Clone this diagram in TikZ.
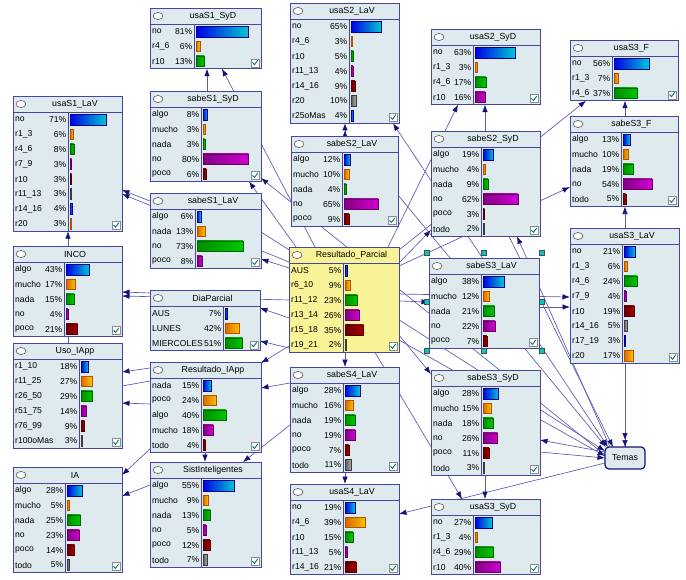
\documentclass[tikz,border=0pt]{standalone}
\usepackage{fontspec}
\setmainfont{Liberation Sans}
\usetikzlibrary{arrows.meta,calc}
\definecolor{nodebg}{RGB}{222,234,238}
\definecolor{nodeyel}{RGB}{248,243,150}
\definecolor{nborder}{RGB}{70,70,160}
\definecolor{edgec}{RGB}{90,90,180}
\definecolor{tipc}{RGB}{20,20,120}
\definecolor{checkc}{RGB}{0,120,120}
\definecolor{handlec}{RGB}{0,200,200}
\definecolor{barL0}{RGB}{0,0,230}\definecolor{barR0}{RGB}{0,200,210}\definecolor{barD0}{RGB}{0,0,150}
\definecolor{barL1}{RGB}{220,100,0}\definecolor{barR1}{RGB}{245,200,0}\definecolor{barD1}{RGB}{180,80,0}
\definecolor{barL2}{RGB}{0,140,0}\definecolor{barR2}{RGB}{0,200,0}\definecolor{barD2}{RGB}{0,100,0}
\definecolor{barL3}{RGB}{130,0,130}\definecolor{barR3}{RGB}{210,0,210}\definecolor{barD3}{RGB}{100,0,100}
\definecolor{barL4}{RGB}{100,0,0}\definecolor{barR4}{RGB}{170,0,0}\definecolor{barD4}{RGB}{80,0,0}
\definecolor{barL5}{RGB}{90,90,90}\definecolor{barR5}{RGB}{170,170,170}\definecolor{barD5}{RGB}{60,60,60}
\pgfdeclarelayer{back}
\pgfdeclarelayer{bg}
\pgfsetlayers{back,bg,main}
\tikzset{
  nbox/.style={draw=nborder,line width=0.8pt,inner sep=0pt,outer sep=0pt,rectangle},
  nline/.style={draw=nborder,line width=0.7pt},
  lbl/.style={font=\fontsize{8.6}{9}\selectfont,inner sep=0pt,text=black},
  ttl/.style={font=\fontsize{8.8}{9}\selectfont,inner sep=0pt,text=black},
  lnk/.style={draw=edgec,line width=0.65pt,-{Latex[length=7.5pt,width=5.5pt,color=tipc]}},
  lnkplain/.style={draw=edgec,line width=0.65pt},
  lnkdbl/.style={draw=edgec,line width=0.65pt,-{Latex[length=7pt,width=5.5pt,color=tipc]Latex[length=7pt,width=5.5pt,color=tipc]}},
  lnkboth/.style={draw=edgec,line width=0.65pt,{Latex[length=7.5pt,width=5.5pt,color=tipc]}-{Latex[length=7.5pt,width=5.5pt,color=tipc]}},
  handle/.style={fill=handlec,draw=black!70,line width=0.4pt}
}
\newcommand\netnode[9]{%
  \pgfmathsetmacro\ytwo{#3+16+14.9*#5}%
  \node[nbox,fill=#9,anchor=north west,minimum width={(#4-#2)*1pt},minimum height={(16+14.9*#5)*1pt}] (#1) at (#2,#3) {};
  \draw[nline] (#2,{#3+16}) -- (#4,{#3+16});
  \draw[nline] (#6,{#3+16}) -- (#6,\ytwo);
  \draw[fill=white,draw=black!75,line width=0.5pt] ({#2+8},{#3+8}) ellipse [x radius=5pt,y radius=3.5pt];
  \node[ttl] at ({(#2+15+#4)/2},{#3+8.5}) {#7};
  \foreach \lab/\pct [count=\i from 0] in {#8} {%
    \pgfmathsetmacro\yc{#3+16+(\i+0.5)*14.9}%
    \pgfmathsetmacro\bl{max(1.5,\pct/100*(#4-#6-3))}%
    \pgfmathtruncatemacro\ci{mod(\i,6)}%
    \node[lbl,anchor=west] at ({#2+2},\yc) {\lab};
    \node[lbl,anchor=east] at ({#6-1.5},\yc) {\pct\%};
    \draw[left color=barL\ci,right color=barR\ci,draw=barD\ci,line width=0.4pt] ({#6+2},{\yc-5.3}) rectangle ({#6+2+\bl},{\yc+5.3});
  }
  \draw[fill=white,draw=black!45,line width=0.4pt] ({#4-10},{\ytwo-10}) rectangle ({#4-2},{\ytwo-2});
  \draw[checkc,line width=0.9pt] ({#4-8.5},{\ytwo-6.2}) -- ({#4-6.5},{\ytwo-4}) -- ({#4-3.2},{\ytwo-8.6});
}
\begin{document}
\begin{tikzpicture}[x=1pt,y=-1pt]
\begin{pgfonlayer}{back}
\fill[white] (0,0) rectangle (686,579);
\end{pgfonlayer}
\useasboundingbox (0,0) rectangle (686,579);

\netnode{usaS1SyD}{150}{8}{261}{3}{194}{usaS1\_SyD}{no/81, r4\_6/6, r10/13}{nodebg}
\netnode{usaS2LaV}{290}{3}{399}{7}{349}{usaS2\_LaV}{no/65, r4\_6/3, r10/5, r11\_13/4, r14\_16/9, r20/10, r25oMas/4}{nodebg}
\netnode{usaS2SyD}{431}{29}{540}{4}{473}{usaS2\_SyD}{no/63, r1\_3/3, r4\_6/17, r10/16}{nodebg}
\netnode{usaS3F}{570}{40}{678}{3}{612}{usaS3\_F}{no/56, r1\_3/7, r4\_6/37}{nodebg}
\netnode{sabeS3F}{570}{116}{678}{5}{621}{sabeS3\_F}{algo/13, mucho/10, nada/19, no/54, todo/5}{nodebg}
\netnode{usaS3LaV}{570}{228}{679}{8}{622}{usaS3\_LaV}{no/21, r1\_3/6, r4\_6/24, r7\_9/4, r10/19, r14\_16/5, r17\_19/3, r20/17}{nodebg}
\netnode{usaS1LaV}{13}{96}{122}{8}{68}{usaS1\_LaV}{no/71, r1\_3/6, r4\_6/8, r7\_9/3, r10/3, r11\_13/3, r14\_16/4, r20/3}{nodebg}
\netnode{sabeS1SyD}{150}{91}{261}{5}{201}{sabeS1\_SyD}{algo/8, mucho/3, nada/3, no/80, poco/6}{nodebg}
\netnode{sabeS1LaV}{150}{193}{261}{4}{195}{sabeS1\_LaV}{algo/6, nada/13, no/73, poco/8}{nodebg}
\netnode{sabeS2LaV}{291}{136}{398}{5}{342}{sabeS2\_LaV}{algo/12, mucho/10, nada/4, no/65, poco/9}{nodebg}
\netnode{sabeS2SyD}{431}{131}{540}{6}{481}{sabeS2\_SyD}{algo/19, mucho/4, nada/9, no/62, poco/3, todo/2}{nodebg}
\netnode{INCO}{13}{246}{122}{5}{64}{INCO}{algo/43, mucho/17, nada/15, no/4, poco/21}{nodebg}
\netnode{UsoIApp}{13}{343}{122}{6}{79}{Uso\_IApp}{r1\_10/18, r11\_25/27, r26\_50/29, r51\_75/14, r76\_99/9, r100oMas/3}{nodebg}
\netnode{DiaParcial}{150}{290}{260}{3}{223}{DiaParcial}{AUS/7, LUNES/42, MIERCOLES/51}{nodebg}
\netnode{RP}{289}{247}{399}{6}{343}{Resultado\_Parcial}{AUS/5, r6\_10/9, r11\_12/23, r13\_14/26, r15\_18/35, r19\_21/2}{nodeyel}
\netnode{sabeS3LaV}{429}{258}{539}{5}{481}{sabeS3\_LaV}{algo/38, mucho/12, nada/21, no/22, poco/7}{nodebg}
\netnode{ResultadoIApp}{150}{362}{261}{5}{201}{Resultado\_IApp}{nada/15, poco/24, algo/40, mucho/18, todo/4}{nodebg}
\netnode{sabeS4LaV}{290}{367}{399}{6}{343}{sabeS4\_LaV}{algo/28, mucho/16, nada/19, no/19, poco/7, todo/11}{nodebg}
\netnode{sabeS3SyD}{431}{370}{540}{6}{481}{sabeS3\_SyD}{algo/28, mucho/15, nada/18, no/26, poco/11, todo/3}{nodebg}
\netnode{IA}{13}{467}{122}{6}{65}{IA}{algo/28, mucho/5, nada/25, no/23, poco/14, todo/5}{nodebg}
\netnode{SistInteligentes}{150}{462}{261}{6}{201}{SistInteligentes}{algo/55, mucho/9, nada/13, no/5, poco/12, todo/7}{nodebg}
\netnode{usaS4LaV}{290}{484}{399}{5}{343}{usaS4\_LaV}{no/19, r4\_6/39, r10/15, r11\_13/5, r14\_16/21}{nodebg}
\netnode{usaS3SyD}{431}{499}{540}{4}{473}{usaS3\_SyD}{no/27, r1\_3/4, r4\_6/29, r10/40}{nodebg}

\node[draw=tipc,line width=1.2pt,rounded corners=4pt,fill=nodebg,anchor=north west,
      minimum width=40pt,minimum height=22pt,inner sep=0pt,outer sep=0pt,
      font=\fontsize{8.8}{9}\selectfont] (Temas) at (605,447) {Temas};

% selection handles round sabeS3_LaV
\foreach \hx/\hy in {427/253,484/253,542/253,427/302,542/302,427/351,484/351,542/351}
  \draw[handle] ({\hx-2.5},{\hy-2.5}) rectangle ({\hx+2.5},{\hy+2.5});

\begin{pgfonlayer}{bg}
\draw[lnk] (sabeS1SyD.north -| 207,0) -- (usaS1SyD.south -| 207,0);
\draw[lnk] (RP.north -| 315,0) -- (usaS1SyD.south -| 222,0);
\draw[lnk] (sabeS1LaV.west |- 0,201) -- (usaS1LaV.east |- 0,190);
\draw[lnk] (RP.west |- 0,262) -- (usaS1LaV.east |- 0,194);
\draw[lnk] (UsoIApp.north -| 68,0) -- (usaS1LaV.south -| 68,0);
\draw[lnk] (DiaParcial.west |- 0,293) -- (INCO.east |- 0,292);
\draw[lnk] (RP.west |- 0,300) -- (INCO.east |- 0,296);
\draw[lnk] (RP.west |- 0,268) -- (sabeS1LaV.east |- 0,259);
\draw[lnk] (RP.west |- 0,318) -- (DiaParcial.east |- 0,308);
\draw[lnk] (RP.west |- 0,348) -- (DiaParcial.east |- 0,341);
\draw[lnk] (RP.west |- 0,346) -- (ResultadoIApp.east |- 0,363);
\draw[lnk] (ResultadoIApp.west |- 0,368) -- (UsoIApp.east |- 0,372);
\draw[lnk] (ResultadoIApp.west |- 0,404) -- (UsoIApp.east |- 0,403);
\draw[lnkplain] (ResultadoIApp.west |- 0,381) -- (UsoIApp.east |- 0,386);
\draw[lnk] (ResultadoIApp.west |- 0,449) -- (IA.east |- 0,475);
\draw[lnk] (SistInteligentes.west |- 0,485) -- (IA.east |- 0,496);
\draw[lnk] (ResultadoIApp.south -| 205,0) -- (SistInteligentes.north -| 205,0);
\draw[lnk] (sabeS4LaV.west |- 0,425) -- (SistInteligentes.north -| 243,0);
\draw[lnk] (sabeS4LaV.west |- 0,383) -- (ResultadoIApp.east |- 0,388);
\draw[lnk] (RP.south -| 345,0) -- (sabeS4LaV.north -| 345,0);
\draw[lnk] (sabeS4LaV.south -| 345,0) -- (usaS4LaV.north -| 345,0);
\draw[lnk] (Temas.west |- 0,463) -- (usaS4LaV.east |- 0,514);
\draw[lnk] (sabeS3SyD.south -| 485,0) -- (usaS3SyD.north -| 485,0);
\draw[lnk] (RP.south -| 375,0) -- (usaS3SyD.north -| 462,0);
\draw[lnk] (RP.east |- 0,335) -- (sabeS3SyD.west |- 0,374);
\draw[lnk] (RP.east |- 0,301) -- (sabeS3LaV.west |- 0,302);
\draw[lnk] (RP.east |- 0,294) -- (usaS3LaV.west |- 0,297);
\draw[lnk] (sabeS3LaV.east |- 0,307) -- (usaS3LaV.west |- 0,307);
\draw[lnk] (RP.east |- 0,263) -- (sabeS2SyD.west |- 0,230);
\draw[lnk] (RP.north -| 388,0) -- (usaS2SyD.south -| 458,0);
\draw[lnk] (RP.east |- 0,250) -- (usaS3F.south -| 586,0);
\draw[lnk] (sabeS2SyD.north -| 485,0) -- (usaS2SyD.south -| 485,0);
\draw[lnkdbl] (sabeS2LaV.north -| 345,0) -- (usaS2LaV.south -| 345,0);
\draw[lnk] (sabeS3F.north -| 625,0) -- (usaS3F.south -| 625,0);
\draw[lnk] (RP.east |- 0,266) -- (sabeS3F.west |- 0,187);
\draw[lnk] (Temas.north -| 625,0) -- (sabeS3F.south -| 625,0);
\draw[lnkdbl] (usaS3LaV.south -| 625,0) -- (Temas.north -| 625,0);
\draw[lnk] (Temas.west |- 0,452) -- (sabeS3SyD.east |- 0,440);
\draw[lnk] (sabeS3SyD.east |- 0,452) -- (Temas.west |- 0,458);
\draw[lnkboth] (usaS2LaV.south -| 393,0) -- (Temas.north -| 608,0);
\draw[lnk] (sabeS2SyD.south -| 509,0) -- (Temas.north -| 613,0);
\draw[lnk] (Temas.north -| 610,0) -- (sabeS2SyD.south -| 517,0);
\draw[lnk] (sabeS2LaV.east |- 0,195) -- (Temas.north -| 606,0);
\draw[lnk] (Temas.west |- 0,455) -- (sabeS1SyD.east |- 0,178);
\draw[lnk] (RP.north -| 296,0) -- (sabeS1SyD.south -| 249,0);
\draw[lnk] (sabeS1LaV.east |- 0,232) -- (Temas.west |- 0,451);
\draw[lnk] (RP.east |- 0,340) -- (Temas.west |- 0,456);
\end{pgfonlayer}
\end{tikzpicture}
\end{document}
